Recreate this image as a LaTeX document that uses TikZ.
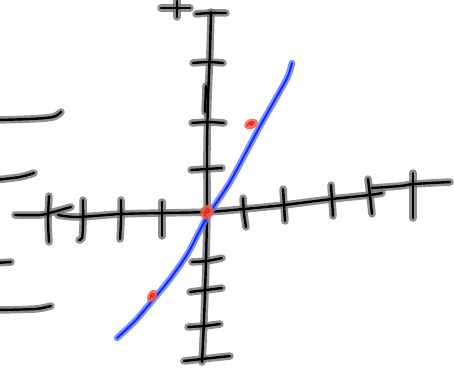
\documentclass[tikz,border=0pt]{standalone}
\usetikzlibrary{calc}
\definecolor{halogray}{RGB}{115,115,115}
\definecolor{inkblue}{RGB}{20,40,255}
\definecolor{haloblue}{RGB}{90,120,255}
\definecolor{inkred}{RGB}{225,30,20}
\definecolor{halored}{RGB}{255,90,60}
\tikzset{
  halo/.style={draw=halogray, line width=7.5pt, line cap=round, line join=round, draw opacity=0.8},
  core/.style={draw=black, line width=2.4pt, line cap=round, line join=round},
  bhalo/.style={draw=haloblue, line width=6.5pt, line cap=round, line join=round, draw opacity=0.8},
  bcore/.style={draw=inkblue, line width=2pt, line cap=round, line join=round},
  rhalo/.style={fill=halored, fill opacity=0.85, draw=none},
  rcore/.style={draw=inkred, line width=1.1pt, line cap=round},
}
\newcommand{\sketchstrokes}[1]{%
  % vertical axis
  \draw[#1] plot[smooth] coordinates {(211,12) (210,50) (208,100) (207,150) (207,210) (206,260) (204,320) (202,362)};
  \draw[#1] (206,86) -- (205,112);
  % y-axis ticks
  \draw[#1] plot[smooth] coordinates {(196,14) (210,13) (226,13)};
  \draw[#1] plot[smooth] coordinates {(193,63) (208,62) (223,63)};
  \draw[#1] plot[smooth] coordinates {(192,123) (208,122) (224,123)};
  \draw[#1] plot[smooth] coordinates {(191,170) (207,169) (222,168)};
  \draw[#1] plot[smooth] coordinates {(192,262) (207,261) (222,258)};
  \draw[#1] plot[smooth] coordinates {(190,292) (206,290) (222,288)};
  \draw[#1] plot[smooth] coordinates {(188,327) (204,326) (220,324)};
  \draw[#1] plot[smooth] coordinates {(184,361) (202,359) (230,356)};
  % plus at top
  \draw[#1] (161,8) -- (190,8);
  \draw[#1] (177,1) -- (177,17);
  % left strokes
  \draw[#1] plot[smooth] coordinates {(-5,120) (30,119) (53,117) (61,112)};
  \draw[#1] plot[smooth] coordinates {(-5,180) (20,177) (34,173)};
  \draw[#1] plot[smooth] coordinates {(-5,263) (11,262)};
  \draw[#1] plot[smooth] coordinates {(-5,310) (35,309) (51,306)};
  % horizontal axis
  \draw[#1] plot[smooth] coordinates {(15,215) (40,215) (53,212) (71,207)};
  \draw[#1] plot[smooth] coordinates {(58,215) (77,217) (121,214) (162,213) (207,212) (244,209) (284,205) (332,199) (370,195) (382,193)};
  \draw[#1] plot[smooth] coordinates {(372,188) (400,186) (414,184) (450,182)};
  % x-axis ticks
  \draw[#1] plot[smooth] coordinates {(49,196) (48,220) (49,242)};
  \draw[#1] plot[smooth] coordinates {(83,200) (83,225) (82,238) (79,240)};
  \draw[#1] plot[smooth] coordinates {(121,200) (121,220) (120,239)};
  \draw[#1] plot[smooth] coordinates {(162,202) (162,236)};
  \draw[#1] plot[smooth] coordinates {(243,198) (244,214) (246,227)};
  \draw[#1] plot[smooth] coordinates {(283,189) (284,205) (285,221)};
  \draw[#1] plot[smooth] coordinates {(331,185) (332,200) (333,216)};
  \draw[#1] plot[smooth] coordinates {(368,179) (370,196) (372,214)};
  \draw[#1] plot[smooth] coordinates {(413,173) (413,195) (413,218)};
}
\newcommand{\bluestroke}[1]{%
  \draw[#1] plot[smooth] coordinates {(117,338) (135,321) (152,301) (170,279) (188,253) (207,217) (230,182) (259,128) (280,91) (288,76) (292,63)};
}
\begin{document}
\begin{tikzpicture}[x=1pt,y=-1pt]
  \useasboundingbox (0,0) rectangle (454,368);
  \fill[white] (0,0) rectangle (454,368);
  \begin{scope}
    \clip (0,0) rectangle (454,368);
    \sketchstrokes{halo}
    \sketchstrokes{core}
    \bluestroke{bhalo}
    \bluestroke{bcore}
    % red marks
    \fill[rhalo, rotate around={20:(251,124)}] (251,124) ellipse (7pt and 5pt);
    \draw[rcore] (247,126) .. controls (250,120) and (256,121) .. (253,124) .. controls (251,126) and (249,125) .. (251,123);
    \fill[rhalo, rotate around={60:(207,212)}] (207,212) ellipse (7.5pt and 6.5pt);
    \draw[rcore] (205,216) .. controls (204,210) and (208,207) .. (209,210) .. controls (210,213) and (206,214) .. (206,211);
    \fill[rhalo, rotate around={60:(152,296)}] (152,296) ellipse (6.5pt and 4.5pt);
    \draw[rcore] (150,299) .. controls (150,294) and (153,292) .. (154,295) .. controls (154,297) and (151,298) .. (151,295);
  \end{scope}
\end{tikzpicture}
\end{document}
